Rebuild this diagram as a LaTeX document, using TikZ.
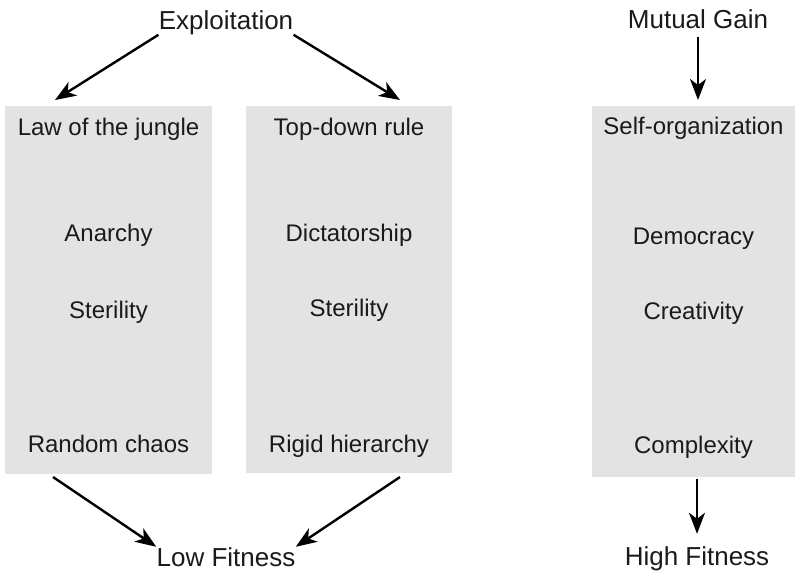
\documentclass[tikz,border=0pt]{standalone}
\usepackage{fontspec}
\setmainfont{Liberation Sans}
\usetikzlibrary{arrows.meta,positioning,calc}
\definecolor{cellgray}{RGB}{227,227,227}
\definecolor{seamgray}{RGB}{231,231,231}
\definecolor{inkgray}{RGB}{26,26,26}

\begin{document}
\begin{tikzpicture}[x=0.5pt,y=-0.5pt,
colbox/.style={fill=cellgray, draw=none, inner sep=0pt, outer sep=0pt, anchor=north west},
celltext/.style={inner sep=0pt, anchor=base, text=inkgray, font=\fontsize{12}{14}\selectfont},
headtext/.style={celltext, font=\fontsize{13}{15}\selectfont},
arr/.style={-{Stealth[length=10.5pt,width=8pt,inset=3pt]}, line width=1.2pt},
]
\useasboundingbox (0,0) rectangle (795,570);
%Columns
\node[colbox, minimum width=103.5pt, minimum height=184pt] (colA) at (5,106) {};
\node[colbox, minimum width=103pt, minimum height=183.5pt] (colB) at (246,106) {};
\node[colbox, minimum width=101.5pt, minimum height=185.5pt] (colC) at (592,106) {};
\draw[seamgray, line width=0.5pt] (5,187) -- (212,187);
\draw[seamgray, line width=0.5pt] (246,187) -- (452,187);
\draw[seamgray, line width=0.5pt] (592,187) -- (795,187);
%Heads and feet
\node[headtext] (expl) at (226,29) {Exploitation};
\node[headtext] (mutual) at (698,28) {Mutual Gain};
\node[headtext] (low) at (226,566) {Low Fitness};
\node[headtext] (high) at (697,565) {High Fitness};
%Column texts
\node[celltext] (jungle) at (108.5,135) {Law of the jungle};
\node[celltext] (anarchy) at (108.5,241) {Anarchy};
\node[celltext] (sterA) at (108.5,318) {Sterility};
\node[celltext] (chaos) at (108.5,452) {Random chaos};
\node[celltext] (topdown) at (349,135) {Top-down rule};
\node[celltext] (dictator) at (349,241) {Dictatorship};
\node[celltext] (sterB) at (349,316) {Sterility};
\node[celltext] (rigid) at (349,452) {Rigid hierarchy};
\node[celltext] (selforg) at (693.5,134) {Self-organization};
\node[celltext] (democ) at (693.5,244) {Democracy};
\node[celltext] (creat) at (693.5,319) {Creativity};
\node[celltext] (complex) at (693.5,453) {Complexity};
%Arrows
\coordinate (inA) at (55,100);
\coordinate (inB) at (400,100);
\coordinate (inC) at (698,100);
\coordinate (outA) at (53,477);
\coordinate (outB) at (400,477);
\coordinate (outC) at (697,479);
\draw[arr] (expl.south west) -- (inA);
\draw[arr] (expl.south east) -- (inB);
\draw[arr] ([yshift=-4pt]mutual.south) -- (inC);
\draw[arr] (outA) -- (low.north west);
\draw[arr] (outB) -- (low.north east);
\draw[arr] (outC) -- ([yshift=6pt]high.north);
\end{tikzpicture}
\end{document}
